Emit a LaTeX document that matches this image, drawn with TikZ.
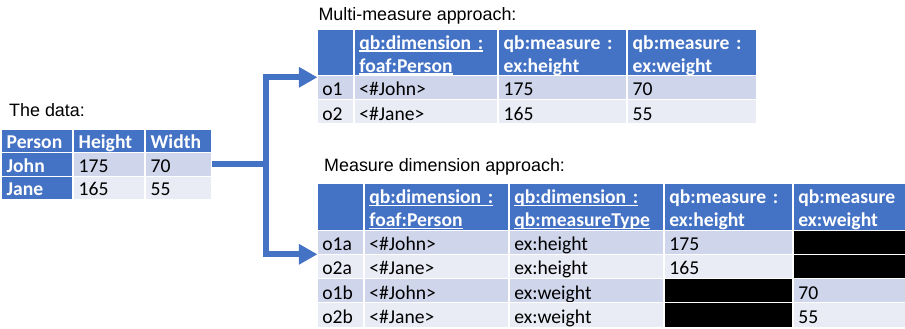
\documentclass[tikz,border=0pt]{standalone}
\usepackage{fontspec}
\usepackage{tikz}
\usetikzlibrary{arrows.meta, positioning, matrix}
\newfontfamily\cellfont{Carlito}
\newfontfamily\titlefont{Liberation Sans}
\definecolor{qbBlue}{HTML}{4472C4}
\definecolor{rowDark}{HTML}{CFD5EA}
\definecolor{rowLight}{HTML}{E9EBF5}
\newcommand{\hdrul}[1]{\setbox0\hbox{#1}\rlap{\rule[-2.6pt]{\wd0}{1.4pt}}\box0}
\tikzset{
  tabtitle/.style={font=\titlefont\fontsize{17.9}{21}\selectfont, inner sep=0pt, anchor=base west},
  cell/.style={draw=white, line width=1pt, fill=rowLight, outer sep=0pt, inner xsep=5pt, inner ysep=0pt,
    align=left, text height=20.5pt, text depth=3.8pt, font=\cellfont\fontsize{19.6}{23}\selectfont},
  hdrcell/.style={fill=qbBlue, text=white, font=\cellfont\bfseries\fontsize{19.6}{23}\selectfont},
  tallhdr/.style={text height=20pt, text depth=26.3pt},
  namecell/.style={hdrcell},
  blankcell/.style={fill=black},
  % row sep -1pt cancels the 1pt \lineskip between the rows
  qbtable/.style={matrix of nodes, nodes in empty cells, inner sep=0pt, anchor=north west,
    column sep=0pt, row sep=-1pt, nodes={cell},
    row 1/.style={nodes={hdrcell, tallhdr}},
    every even row/.style={nodes={fill=rowDark}}},
  flowline/.style={draw=qbBlue, line width=6pt},
  flowarr/.style={flowline, -{Triangle[length=18.5pt, width=19.5pt]}},
}
\begin{document}
\begin{tikzpicture}[x=1pt, y=-1pt]
  \useasboundingbox (0,0) rectangle (905,329);
  \node[tabtitle] (datatitle) at (9,117) {The data:};
  \node[tabtitle] (multititle) at (318.3,21) {Multi-measure approach:};
  \node[tabtitle] (dimtitle) at (324,171) {Measure dimension approach:};

  \matrix (data) [qbtable, nodes={text height=19.5pt, text depth=4pt},
    row 1/.style={nodes={hdrcell}},
    column 1/.style={nodes={text width=61pt}}, column 2/.style={nodes={text width=61pt}},
    column 3/.style={nodes={text width=56pt}}] at (1,128.3) {
    Person & Height & Width \\
    |[namecell]| John & 175 & 70 \\
    |[namecell]| Jane & 165 & 55 \\
  };

  \matrix (multi) [qbtable,
    column 1/.style={nodes={text width=26pt}}, column 2/.style={nodes={text width=133.3pt}},
    column 3/.style={nodes={text width=118pt}}, column 4/.style={nodes={text width=119pt}}] at (316.7,28.3) {
     & \hdrul{qb:dimension :}\newline\hdrul{foaf:Person} & qb:measure :\newline ex:height & qb:measure :\newline ex:weight \\
    o1 & <\#John> & 175 & 70 \\
    o2 & <\#Jane> & 165 & 55 \\
  };

  \matrix (measdim) [qbtable,
    column 1/.style={nodes={text width=36pt}}, column 2/.style={nodes={text width=134pt}},
    column 3/.style={nodes={text width=144pt}}, column 4/.style={nodes={text width=118pt}},
    column 5/.style={nodes={text width=106.3pt}}] at (316.7,183) {
     & \hdrul{qb:dimension :}\newline\hdrul{foaf:Person} & \hdrul{qb:dimension :}\newline\hdrul{qb:measureType} & qb:measure :\newline ex:height & qb:measure\newline ex:weight \\
    o1a & <\#John> & ex:height & 175 & |[blankcell]| \\
    o2a & <\#Jane> & ex:height & 165 & |[blankcell]| \\
    o1b & <\#John> & ex:weight & |[blankcell]| & 70 \\
    o2b & <\#Jane> & ex:weight & |[blankcell]| & 55 \\
  };

  \coordinate[right=54.3pt of data-2-3.east] (split);
  \draw[flowline] (data-2-3.east) -- (split);
  \draw[flowarr] (split) |- ([yshift=-2pt]multi-1-1.south west);
  \draw[flowarr] (split) |- (measdim-2-1.south west);
\end{tikzpicture}
\end{document}
